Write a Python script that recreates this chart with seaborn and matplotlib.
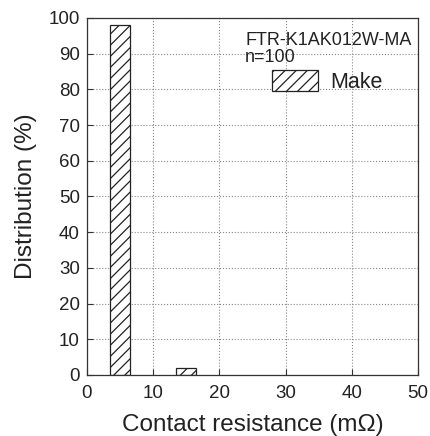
import matplotlib
matplotlib.use('Agg')
import pandas as pd
import seaborn as sns
import matplotlib.pyplot as plt

# data
resistance = [5, 15]        # bin centres (mOhm)
distribution = [98, 2]      # %
series_name = 'Make'
model = 'FTR-K1AK012W-MA'
sample = 'n=100'

sns.set_style('ticks')
plt.rcParams['font.family'] = ['Liberation Sans', 'DejaVu Sans']
plt.rcParams['hatch.linewidth'] = 0.9
plt.rcParams['text.color'] = '#222222'
plt.rcParams['axes.labelcolor'] = '#222222'

df = pd.DataFrame({'res': resistance, 'dist': distribution})

fig = plt.figure(figsize=(4.30, 4.36), dpi=100)
ax = fig.add_axes([0.202, 0.140, 0.770, 0.819])

sns.barplot(data=df, x='res', y='dist', native_scale=True, width=0.3,
            color='white', edgecolor='#222222', linewidth=0.9, hatch='///',
            label=series_name, ax=ax)

ax.set_xlim(0, 50)
ax.set_ylim(0, 100)
ax.set_xticks(range(0, 51, 10))
ax.set_yticks(range(0, 101, 10))
ax.grid(True, linestyle=':', color='#888888', linewidth=0.8)
ax.set_axisbelow(True)
ax.tick_params(direction='in', length=4, labelsize=13.5, width=0.8,
               colors='#333333', labelcolor='#222222', pad=5)
ax.tick_params(axis='x', pad=7)
for s in ax.spines.values():
    s.set_visible(True)
    s.set_linewidth(0.9)
    s.set_color('#333333')

ax.set_xlabel('Contact resistance (mΩ)', fontsize=17.5, labelpad=9)
ax.set_ylabel('Distribution (%)', fontsize=17.5, labelpad=8)

ax.text(0.478, 0.96, model + '\n' + sample, transform=ax.transAxes,
        fontsize=13, va='top', ha='left', linespacing=1.0)
leg = ax.legend(loc='upper left', bbox_to_anchor=(0.515, 0.895), frameon=False,
                fontsize=15.5, handlelength=2.1, handleheight=1.1,
                handletextpad=0.6, borderpad=0.2)

plt.savefig('out.png', dpi=100)
